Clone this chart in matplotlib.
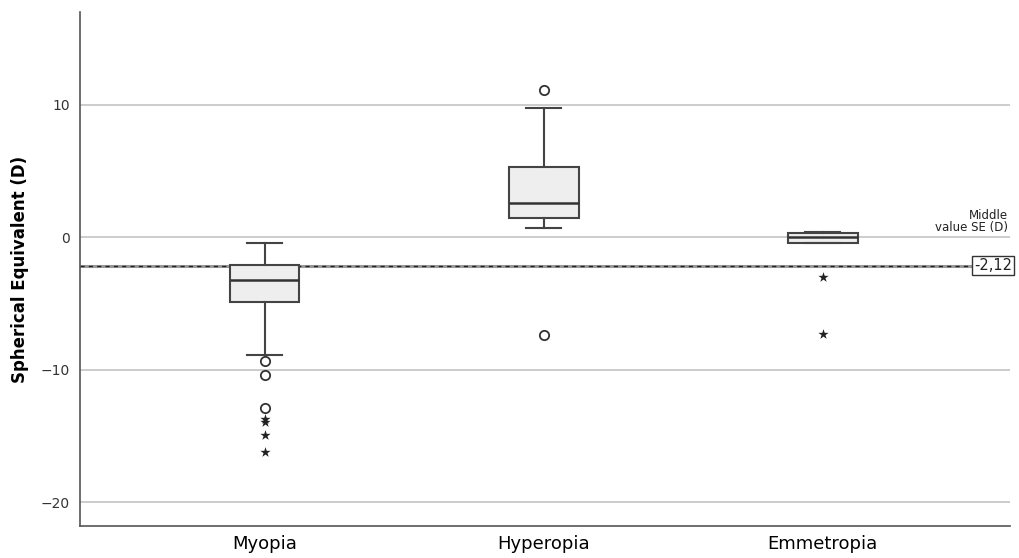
import matplotlib
matplotlib.use('Agg')
import matplotlib.pyplot as plt

# Box statistics per group
groups = ['Myopia', 'Hyperopia', 'Emmetropia']
q1 = [-4.9, 1.5, -0.4]
med = [-3.2, 2.6, 0.05]
q3 = [-2.1, 5.3, 0.3]
whislo = [-8.9, 0.75, -0.4]
whishi = [-0.45, 9.8, 0.38]
# outliers (circles) and extremes (stars)
out_myopia = [-9.3, -10.4, -12.9]
out_hyperopia = [11.1, -7.4]
out_emmetropia = []
ext_myopia = [-13.7, -13.95, -14.9, -16.2]
ext_hyperopia = []
ext_emmetropia = [-3.0, -7.3]
middle_se = -2.12

outliers = [out_myopia, out_hyperopia, out_emmetropia]
extremes = [ext_myopia, ext_hyperopia, ext_emmetropia]

fig = plt.figure(figsize=(10.2, 5.58), dpi=100)
ax = fig.add_axes([0.078, 0.057, 0.912, 0.921])

stats = []
for i, g in enumerate(groups):
    stats.append(dict(label=g, q1=q1[i], med=med[i], q3=q3[i],
                      whislo=whislo[i], whishi=whishi[i], fliers=[]))

pos = [1, 2, 3]
ax.bxp(stats, positions=pos, widths=0.25, patch_artist=True, showfliers=False,
       boxprops=dict(facecolor='#eeeeee', edgecolor='#444444', linewidth=1.5),
       medianprops=dict(color='#333333', linewidth=1.8),
       whiskerprops=dict(color='#444444', linewidth=1.5),
       capprops=dict(color='#444444', linewidth=1.5),
       capwidths=0.125, zorder=3)

for p, o, e in zip(pos, outliers, extremes):
    if o:
        ax.scatter([p] * len(o), o, s=45, facecolor='white',
                   edgecolor='#333333', linewidth=1.3, zorder=4)
    if e:
        ax.scatter([p] * len(e), e, s=60, marker='*', color='#222222',
                   linewidth=0, zorder=4)

# reference line
ax.plot([0.337, 3.54], [middle_se, middle_se], color='#999999', lw=2.2, zorder=2)
ax.plot([0.337, 3.54], [middle_se, middle_se], color='#222222', lw=1.0,
        ls=(0, (3, 3)), zorder=2.5)
ax.text(3.61, middle_se, '-2,12', ha='center', va='center', fontsize=10.5,
        color='#222222',
        bbox=dict(boxstyle='square,pad=0.12', facecolor='white',
                  edgecolor='#333333', linewidth=1.0))
ax.text(3.665, 0.25, 'Middle\nvalue SE (D)', ha='right', va='bottom',
        fontsize=8.5, color='#222222', linespacing=0.95)

ax.set_xlim(0.337, 3.67)
ax.set_ylim(-21.8, 17.0)
ax.set_yticks([10, 0, -10, -20])
ax.set_yticklabels(['10', '0', '\u221210', '\u221220'])
ax.set_xticks(pos)
ax.set_xticklabels(groups, fontsize=13)
ax.tick_params(axis='y', length=0, pad=7, labelsize=10, labelcolor='#333333')
ax.tick_params(axis='x', length=0, pad=6)
ax.yaxis.grid(True, color='#c8c8c8', linewidth=1.3, zorder=0)
ax.set_axisbelow(True)
for s in ['top', 'right']:
    ax.spines[s].set_visible(False)
for s in ['left', 'bottom']:
    ax.spines[s].set_color('#555555')
    ax.spines[s].set_linewidth(1.2)
ax.set_ylabel('Spherical Equivalent (D)', fontsize=12, fontweight='bold',
              labelpad=8)

fig.savefig('out.png', dpi=100)
